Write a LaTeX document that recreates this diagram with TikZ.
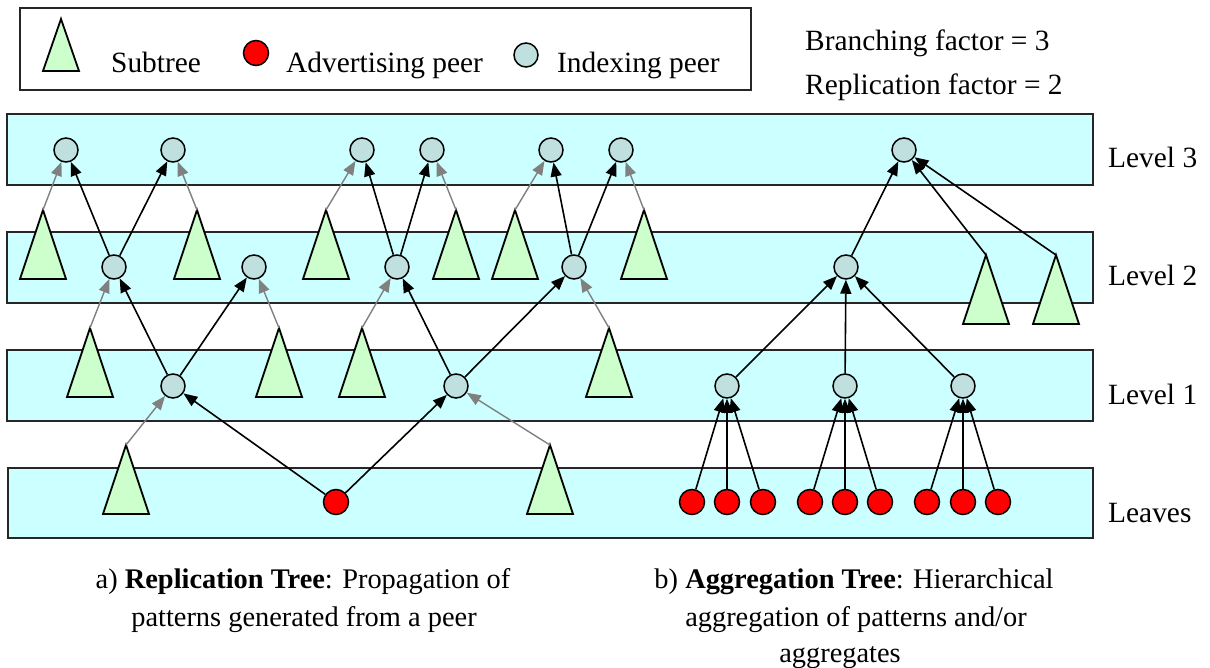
\documentclass[tikz,border=0pt]{standalone}
\usepackage{fontspec}
\setmainfont{Liberation Serif}
\usetikzlibrary{arrows.meta}
\definecolor{bandfill}{HTML}{CCFFFF}
\definecolor{treefill}{HTML}{CCFFCC}
\definecolor{idxfill}{HTML}{C0E0E0}
\definecolor{advfill}{HTML}{FF0000}
\definecolor{repgray}{HTML}{808080}

\begin{document}
\begin{tikzpicture}[x=1pt,y=-1pt,
  band/.style={draw=black!85, line width=2pt, fill=bandfill},
  legendbox/.style={draw=black!85, line width=1.6pt, fill=white},
  tri/.style={draw=black, line width=1.8pt, fill=treefill, line join=miter},
  idx/.style={circle, draw=black, line width=1.5pt, fill=idxfill, minimum size=24pt, inner sep=0pt},
  adv/.style={circle, draw=black, line width=1.5pt, fill=advfill, minimum size=25pt, inner sep=0pt},
  blk/.style={draw=black, line width=1.6pt, -{Triangle[length=14pt,width=11pt]}},
  gry/.style={draw=repgray, line width=1.4pt, -{Triangle[length=14pt,width=11pt]}},
  lbl/.style={font=\fontsize{29.4}{35}\selectfont, inner sep=0pt, anchor=base west},
  captext/.style={font=\fontsize{28.4}{34}\selectfont, inner sep=0pt, anchor=base},
  subtree/.pic={\path[tri] (0,0) -- (-23,69) -- (23,69) -- cycle;},
  minitree/.pic={\path[tri] (0,0) -- (-18,52) -- (18,52) -- cycle;}
]
\useasboundingbox (0,0) rectangle (1210,668);

% ---- legend ----
\path[legendbox] (20,8) rectangle (751,90);
\coordinate (legtree) at (61,19);
\pic at (legtree) {minitree};
\node[lbl] (legtreetxt) at (111,73) {Subtree};
\node[adv] (legadv) at (256,53) {};
\node[lbl] (legadvtxt) at (286,73) {Advertising peer};
\node[idx] (legidx) at (526,55) {};
\node[lbl] (legidxtxt) at (557,73) {Indexing peer};

\node[lbl] (branch) at (805,51) {Branching factor = 3};
\node[lbl] (repl) at (805,95) {Replication factor = 2};

% ---- level bands ----
\path[band] (7,114) rectangle (1093,185);
\path[band] (7,232) rectangle (1093,303);
\path[band] (7,350) rectangle (1093,421);
\path[band] (8,468) rectangle (1093,538);

\node[lbl] (lv3) at (1108,168) {Level 3};
\node[lbl] (lv2) at (1108,286) {Level 2};
\node[lbl] (lv1) at (1108,404) {Level 1};
\node[lbl] (lv0) at (1108,522) {Leaves};

% ---- subtrees (apex coordinates) ----
\foreach \n/\x in {t2a/43, t2b/197, t2c/326, t2d/456, t2e/515, t2f/644}
  {\coordinate (\n) at (\x,210); \pic at (\n) {subtree};}
\foreach \n/\x in {t2g/986, t2h/1056}
  {\coordinate (\n) at (\x,255); \pic at (\n) {subtree};}
\foreach \n/\x in {t1a/90, t1b/279, t1c/362, t1d/609}
  {\coordinate (\n) at (\x,328); \pic at (\n) {subtree};}
\foreach \n/\x in {tla/126, tlb/550}
  {\coordinate (\n) at (\x,445); \pic at (\n) {subtree};}

% ---- indexing peers ----
\foreach \n/\x in {c3a/66, c3b/173, c3c/362, c3d/432, c3e/551, c3f/621, c3g/904}
  {\node[idx] (\n) at (\x,150) {};}
\foreach \n/\x in {c2a/114, c2b/254, c2c/397, c2d/574, c2e/846}
  {\node[idx] (\n) at (\x,267) {};}
\foreach \n/\x in {c1a/173, c1b/456, c1c/727, c1d/845, c1e/963}
  {\node[idx] (\n) at (\x,386) {};}

% ---- advertising peers ----
\node[adv] (r0) at (336,502) {};
\foreach \n/\x in {r1/692, r2/727, r3/763, r4/810, r5/845, r6/880, r7/927, r8/963, r9/998}
  {\node[adv] (\n) at (\x,502) {};}

% ---- replication tree ----
\draw[gry] (tla) -- (c1a);
\draw[blk] (r0) -- (c1a);
\draw[blk] (r0) -- (c1b);
\draw[gry] (tlb) -- (c1b);

\draw[gry] (t1a) -- (c2a);
\draw[blk] (c1a) -- (c2a);
\draw[blk] (c1a) -- (c2b);
\draw[gry] (t1b) -- (c2b);
\draw[gry] (t1c) -- (c2c);
\draw[blk] (c1b) -- (c2c);
\draw[blk] (c1b) -- (c2d);
\draw[gry] (t1d) -- (c2d);

\draw[gry] (t2a) -- (c3a);
\draw[blk] (c2a) -- (c3a);
\draw[blk] (c2a) -- (c3b);
\draw[gry] (t2b) -- (c3b);
\draw[gry] (t2c) -- (c3c);
\draw[blk] (c2c) -- (c3c);
\draw[blk] (c2c) -- (c3d);
\draw[gry] (t2d) -- (c3d);
\draw[gry] (t2e) -- (c3e);
\draw[blk] (c2d) -- (c3e);
\draw[blk] (c2d) -- (c3f);
\draw[gry] (t2f) -- (c3f);

% ---- aggregation tree ----
\foreach \a in {r1,r2,r3} {\draw[blk] (\a) -- (c1c);}
\foreach \a in {r4,r5,r6} {\draw[blk] (\a) -- (c1d);}
\foreach \a in {r7,r8,r9} {\draw[blk] (\a) -- (c1e);}
\foreach \a in {c1c,c1d,c1e} {\draw[blk] (\a) -- (c2e);}
\draw[blk] (c2e) -- (c3g);
\draw[blk] (t2g) -- (c3g);
\draw[blk] (t2h) -- (c3g);

% ---- captions ----
\node[captext] (capa1) at (303,588) {a) \textbf{Replication Tree}: Propagation of};
\node[captext] (capa2) at (304,626) {patterns generated from a peer};
\node[captext] (capb1) at (854,588) {b) \textbf{Aggregation Tree}: Hierarchical};
\node[captext] (capb2) at (856,626) {aggregation of patterns and/or};
\node[captext] (capb3) at (840,662) {aggregates};
\end{tikzpicture}
\end{document}
